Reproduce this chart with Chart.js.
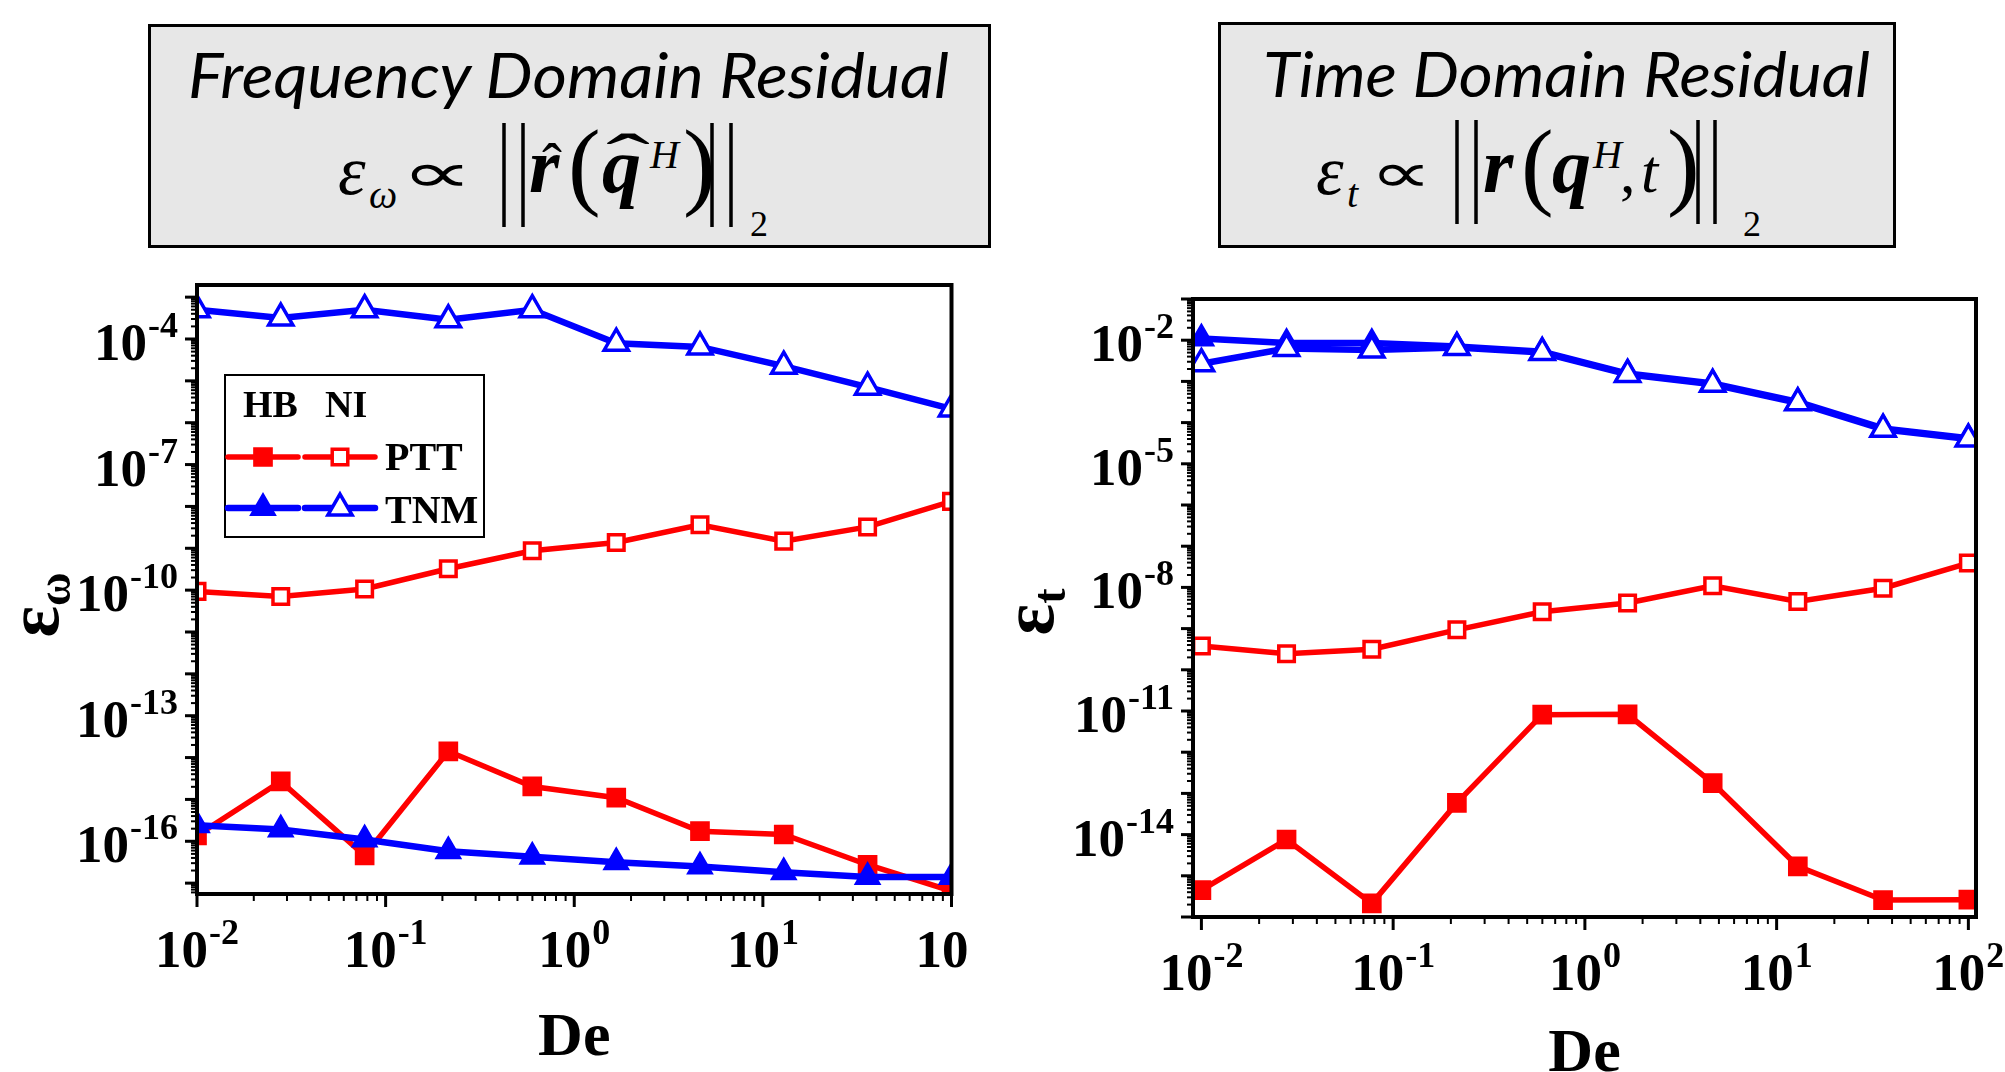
<!DOCTYPE html>
<html><head><meta charset="utf-8">
<script src="https://cdn.jsdelivr.net/npm/chart.js@4.4.1/dist/chart.umd.min.js"></script>
<style>
html,body{margin:0;padding:0;background:#fff;}
body{width:2005px;height:1072px;position:relative;overflow:hidden;}
canvas{position:absolute;}
svg{position:absolute;left:0;top:0;}
</style></head><body>
<svg width="2005" height="260" viewBox="0 0 2005 260">
<g font-family="'Liberation Serif', serif" fill="#000">
<rect x="149.5" y="25.5" width="840" height="221" fill="#e7e7e7" stroke="#000" stroke-width="3"/>
<text x="188" y="98" font-family="Lato, 'Open Sans', sans-serif" font-style="italic" font-size="62" textLength="761" lengthAdjust="spacingAndGlyphs">Frequency Domain Residual</text>
<text x="338" y="194" font-style="italic" font-size="70">ε</text>
<text x="369" y="208" font-style="italic" font-size="40">ω</text>
<text x="401" y="192" font-family="'DejaVu Sans'" font-size="56" textLength="72" lengthAdjust="spacingAndGlyphs">∝</text>
<line x1="504" y1="123" x2="504" y2="227" stroke="#000" stroke-width="3.5"/>
<line x1="523" y1="123" x2="523" y2="227" stroke="#000" stroke-width="3.5"/>
<text x="529" y="192" font-weight="bold" font-style="italic" font-size="78">r</text>
<text x="552" y="184" font-size="60" text-anchor="middle">ˆ</text>
<text x="568" y="197" font-size="98">(</text>
<text x="602" y="192" font-weight="bold" font-style="italic" font-size="78">q</text>
<text x="628" y="182" font-size="70" text-anchor="middle" textLength="44" lengthAdjust="spacingAndGlyphs">ˆ</text>
<text x="650" y="168" font-style="italic" font-size="40">H</text>
<text x="683" y="197" font-size="98">)</text>
<line x1="712" y1="123" x2="712" y2="227" stroke="#000" stroke-width="3.5"/>
<line x1="731" y1="123" x2="731" y2="227" stroke="#000" stroke-width="3.5"/>
<text x="750" y="236" font-size="36">2</text>

<rect x="1219.5" y="23.5" width="675" height="223" fill="#e7e7e7" stroke="#000" stroke-width="3"/>
<text x="1263" y="97" font-family="Lato, 'Open Sans', sans-serif" font-style="italic" font-size="62" textLength="607" lengthAdjust="spacingAndGlyphs">Time Domain Residual</text>
<text x="1316" y="194" font-style="italic" font-size="70">ε</text>
<text x="1347" y="207" font-style="italic" font-size="40">t</text>
<text x="1370" y="192" font-family="'DejaVu Sans'" font-size="56" textLength="62" lengthAdjust="spacingAndGlyphs">∝</text>
<line x1="1457" y1="120" x2="1457" y2="224" stroke="#000" stroke-width="3.5"/>
<line x1="1476" y1="120" x2="1476" y2="224" stroke="#000" stroke-width="3.5"/>
<text x="1483" y="192" font-weight="bold" font-style="italic" font-size="78">r</text>
<text x="1521" y="197" font-size="98">(</text>
<text x="1552" y="192" font-weight="bold" font-style="italic" font-size="78">q</text>
<text x="1593" y="168" font-style="italic" font-size="40">H</text>
<text x="1620" y="192" font-size="62">,</text>
<text x="1641" y="192" font-style="italic" font-size="62">t</text>
<text x="1667" y="197" font-size="98">)</text>
<line x1="1698" y1="120" x2="1698" y2="224" stroke="#000" stroke-width="3.5"/>
<line x1="1715" y1="120" x2="1715" y2="224" stroke="#000" stroke-width="3.5"/>
<text x="1743" y="236" font-size="36">2</text>
</g>
</svg>
<canvas id="freq" width="969" height="812" style="left:0;top:260px;width:969px;height:812px"></canvas>
<canvas id="time" width="1005" height="812" style="left:1000px;top:260px;width:1005px;height:812px"></canvas>
<script>
// ---------- data ----------
const De = [0.01, 0.0278, 0.0774, 0.215, 0.599, 1.67, 4.64, 12.9, 35.9, 100];

const freqPttHB = [1.38e-16, 2.69e-15, 4.57e-17, 1.41e-14, 2.04e-15, 1.10e-15, 1.74e-16, 1.45e-16, 2.75e-17, 6.46e-18];
const freqPttNI = [9.33e-11, 7.08e-11, 1.07e-10, 3.24e-10, 8.71e-10, 1.38e-9, 3.63e-9, 1.48e-9, 3.24e-9, 1.32e-8];
const freqTnmHB = [2.40e-16, 1.91e-16, 1.10e-16, 5.75e-17, 4.27e-17, 3.16e-17, 2.51e-17, 1.82e-17, 1.41e-17, 1.41e-17];
const freqTnmNI = [5.01e-4, 3.16e-4, 5.01e-4, 2.88e-4, 5.01e-4, 7.94e-5, 6.46e-5, 2.24e-5, 7.08e-6, 2.14e-6];

const timePttHB = [4.47e-16, 7.59e-15, 2.14e-16, 5.89e-14, 8.13e-12, 8.32e-12, 1.78e-13, 1.70e-15, 2.57e-16, 2.63e-16];
const timePttNI = [3.80e-10, 2.45e-10, 3.16e-10, 9.33e-10, 2.57e-9, 4.17e-9, 1.10e-8, 4.57e-9, 9.55e-9, 3.89e-8];
const timeTnmHB = [1.10e-2, 8.51e-3, 8.51e-3, 7.08e-3, 5.25e-3, 1.55e-3, 8.91e-4, 3.16e-4, 7.24e-5, 4.17e-5];
const timeTnmNI = [2.69e-3, 6.31e-3, 5.75e-3, 6.61e-3, 5.01e-3, 1.48e-3, 8.51e-4, 3.02e-4, 6.92e-5, 3.98e-5];

const xTickExps = [-2, -1, 0, 1, 2];
const freqYTickExps = [-16, -13, -10, -7, -4];
const timeYTickExps = [-14, -11, -8, -5, -2];
const legendHeads = ['HB', 'NI'];
const legendModels = ['PTT', 'TNM'];
const xTitle = 'De';

// ---------- styling ----------
const RED = '#ff0000', BLUE = '#0000ff';
const SERIF = '"Liberation Serif", "Times New Roman", serif';
const styles = {
  pttHB: {borderColor: RED, borderWidth: 5.5, pointStyle: 'rect', pointRadius: 12.5, pointBackgroundColor: RED, pointBorderColor: RED, pointBorderWidth: 2, order: 3},
  pttNI: {borderColor: RED, borderWidth: 5.5, pointStyle: 'rect', pointRadius: 11, pointBackgroundColor: '#fff', pointBorderColor: RED, pointBorderWidth: 3.5, order: 2},
  tnmHB: {borderColor: BLUE, borderWidth: 6.5, pointStyle: 'triangle', pointRadius: 14, pointBackgroundColor: BLUE, pointBorderColor: BLUE, pointBorderWidth: 2, order: 1},
  tnmNI: {borderColor: BLUE, borderWidth: 6.5, pointStyle: 'triangle', pointRadius: 14, pointBackgroundColor: '#fff', pointBorderColor: BLUE, pointBorderWidth: 3.5, order: 0}
};

function series(label, ys, st) {
  return Object.assign({label, data: De.map((d, i) => ({x: d, y: ys[i]})), clip: 0, tension: 0, pointHoverRadius: st.pointRadius}, st);
}

function drawPow10(ctx, exp, x, y, align) {
  const base = 'bold 53px ' + SERIF, sup = 'bold 36px ' + SERIF;
  ctx.font = base; const wb = ctx.measureText('10').width;
  const es = String(exp);
  ctx.font = sup; const we = ctx.measureText(es).width;
  const x0 = align === 'right' ? x - wb - we - 1 : x - (wb + we + 1) / 2;
  ctx.textAlign = 'left'; ctx.textBaseline = 'alphabetic';
  ctx.font = base; ctx.fillText('10', x0, y);
  ctx.font = sup; ctx.fillText(es, x0 + wb + 1, y - 23);
}

function marker(ctx, style, x, y) {
  ctx.fillStyle = style.pointBackgroundColor; ctx.strokeStyle = style.pointBorderColor;
  ctx.lineWidth = style.pointBorderWidth;
  Chart.helpers.drawPoint(ctx, {pointStyle: style.pointStyle, radius: style.pointRadius, borderWidth: style.pointBorderWidth, rotation: 0}, x, y);
}

function decoPlugin(cfg) {
  return {
    id: 'deco',
    afterDatasetsDraw(chart) {
      const ctx = chart.ctx, a = chart.chartArea, xs = chart.scales.x, ys = chart.scales.y;
      ctx.save();
      ctx.strokeStyle = '#000'; ctx.fillStyle = '#000'; ctx.lineCap = 'butt';
      // y ticks
      const yLo = Math.floor(Math.log10(ys.min)), yHi = Math.ceil(Math.log10(ys.max));
      for (let e = yLo; e <= yHi; e++) for (let m = 1; m < 10; m++) {
        const v = m * Math.pow(10, e);
        if (v < ys.min || v > ys.max) continue;
        const p = ys.getPixelForValue(v);
        const L = m === 1 ? 12 : 6;
        ctx.lineWidth = m === 1 ? 3 : 2;
        ctx.beginPath(); ctx.moveTo(a.left - L, p); ctx.lineTo(a.left, p); ctx.stroke();
      }
      // x ticks
      const xLo = Math.floor(Math.log10(xs.min)), xHi = Math.ceil(Math.log10(xs.max));
      for (let e = xLo; e <= xHi; e++) for (let m = 1; m < 10; m++) {
        const v = m * Math.pow(10, e);
        if (v < xs.min * 0.999 || v > xs.max * 1.001) continue;
        const p = xs.getPixelForValue(v);
        const L = m === 1 ? 13 : 7;
        ctx.lineWidth = m === 1 ? 3 : 2;
        ctx.beginPath(); ctx.moveTo(p, a.bottom); ctx.lineTo(p, a.bottom + L); ctx.stroke();
      }
      // frame
      ctx.lineWidth = 4;
      ctx.strokeRect(a.left, a.top, a.right - a.left, a.bottom - a.top);
      // tick labels
      cfg.yExps.forEach(e => drawPow10(ctx, e, a.left - 19, ys.getPixelForValue(Math.pow(10, e)) + 21, 'right'));
      xTickExps.forEach(e => drawPow10(ctx, e, xs.getPixelForValue(Math.pow(10, e)), a.bottom + 73, 'center'));
      // x title
      ctx.font = 'bold 62px ' + SERIF; ctx.textAlign = 'center'; ctx.textBaseline = 'alphabetic';
      ctx.fillText(xTitle, (a.left + a.right) / 2, cfg.xTitleY);
      // y title (rotated)
      ctx.save();
      ctx.translate(cfg.yTitleX, cfg.yTitleY);
      ctx.rotate(-Math.PI / 2);
      ctx.font = 'bold 74px ' + SERIF;
      const w1 = ctx.measureText('ε').width;
      ctx.font = 'bold 46px ' + SERIF;
      const w2 = ctx.measureText(cfg.ySub).width;
      const s0 = -(w1 + w2) / 2;
      ctx.textAlign = 'left';
      ctx.font = 'bold 74px ' + SERIF; ctx.fillText('ε', s0, 0);
      ctx.font = 'bold 46px ' + SERIF; ctx.fillText(cfg.ySub, s0 + w1, 12);
      ctx.restore();
      // legend
      if (cfg.legend) {
        ctx.lineWidth = 2; ctx.strokeStyle = '#000';
        ctx.strokeRect(225, 115, 259, 162);
        ctx.fillStyle = '#000'; ctx.textAlign = 'left'; ctx.textBaseline = 'alphabetic';
        ctx.font = 'bold 38px ' + SERIF;
        ctx.fillText(legendHeads[0], 243, 157);
        ctx.fillText(legendHeads[1], 325, 157);
        const rows = [
          {y: 197, ty: 210, hb: styles.pttHB, ni: styles.pttNI, name: legendModels[0]},
          {y: 248, ty: 263, hb: styles.tnmHB, ni: styles.tnmNI, name: legendModels[1]}
        ];
        rows.forEach(r => {
          [[r.hb, 228, 298, 263], [r.ni, 305, 375, 340]].forEach(([st, x1, x2, mx]) => {
            ctx.strokeStyle = st.borderColor; ctx.lineWidth = st.borderWidth; ctx.lineCap = 'round';
            ctx.beginPath(); ctx.moveTo(x1, r.y); ctx.lineTo(x2, r.y); ctx.stroke();
            ctx.lineCap = 'butt';
            marker(ctx, st, mx, r.y);
          });
          ctx.fillStyle = '#000'; ctx.font = 'bold 40px ' + SERIF;
          ctx.fillText(r.name, 385, r.ty);
        });
      }
      ctx.restore();
    }
  };
}

function makeChart(id, sets, xr, yr, pad, cfg) {
  return new Chart(document.getElementById(id), {
    type: 'line',
    data: {datasets: [
      series('PTT HB', sets[0], styles.pttHB),
      series('PTT NI', sets[1], styles.pttNI),
      series('TNM HB', sets[2], styles.tnmHB),
      series('TNM NI', sets[3], styles.tnmNI)
    ]},
    options: {
      responsive: false, animation: false, devicePixelRatio: 1,
      layout: {padding: pad},
      plugins: {legend: {display: false}, tooltip: {enabled: false}},
      scales: {
        x: {type: 'logarithmic', min: xr[0], max: xr[1], display: false},
        y: {type: 'logarithmic', min: yr[0], max: yr[1], display: false}
      }
    },
    plugins: [decoPlugin(cfg)]
  });
}

makeChart('freq', [freqPttHB, freqPttNI, freqTnmHB, freqTnmNI],
  [0.01, 100], [5.5e-18, 1.95e-3],
  {left: 197, right: 10, top: 25, bottom: 178},
  {yExps: freqYTickExps, ySub: 'ω', xTitleY: 795, yTitleX: 58, yTitleY: 345, legend: true});

makeChart('time', [timePttHB, timePttNI, timeTnmHB, timeTnmNI],
  [0.00904, 109.6], [1e-16, 1e-1],
  {left: 193, right: 29, top: 39, bottom: 155},
  {yExps: timeYTickExps, ySub: 't', xTitleY: 811, yTitleX: 53, yTitleY: 352, legend: false});
</script>
</body></html>
